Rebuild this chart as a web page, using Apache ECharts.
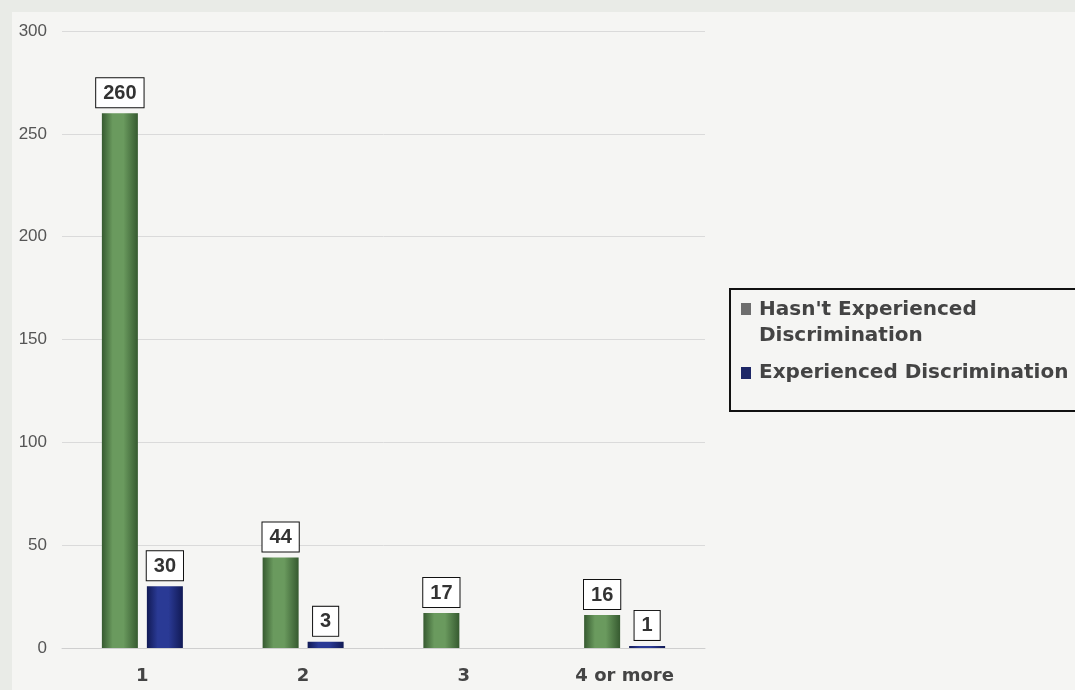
<!DOCTYPE html>
<html><head><meta charset="utf-8">
<script src="https://cdn.jsdelivr.net/npm/echarts@6/dist/echarts.min.js"></script>
<style>html,body{margin:0;padding:0;background:#e9ebe7}#c{width:1075px;height:690px}</style>
</head><body><div id="c"></div>
<script>
const categories = ['1', '2', '3', '4 or more'];
const notExperienced = [260, 44, 17, 16];
const experienced = [30, 3, null, 1];
const yTicks = [0, 50, 100, 150, 200, 250, 300];
const seriesNames = ["Hasn't Experienced Discrimination", 'Experienced Discrimination'];
const legendColors = ['#6e6e6e', '#1d2766'];

const chart = echarts.init(document.getElementById('c'));
const font = '"Liberation Sans", Arial, sans-serif';
const wideFont = '"DejaVu Sans", Verdana, sans-serif';
function grad(edge, mid) {
  return new echarts.graphic.LinearGradient(0, 0, 1, 0, [
    {offset: 0, color: edge}, {offset: 0.3, color: mid}, {offset: 0.6, color: mid}, {offset: 1, color: edge}
  ]);
}
const labelStyle = {
  show: true, position: 'top', distance: 6,
  fontFamily: font, fontWeight: 'bold', fontSize: 20, lineHeight: 20, color: '#333',
  backgroundColor: '#fff', borderColor: '#111', borderWidth: 1,
  padding: [5, 7, 4, 7]
};
chart.setOption({
  backgroundColor: '#e9ebe7',
  animation: false,
  graphic: [
    {type: 'rect', shape: {x: 12, y: 12, width: 1063, height: 678}, style: {fill: '#f5f5f3'}, z: -10},
    {type: 'rect', shape: {x: 730, y: 289, width: 360, height: 122}, style: {fill: '#f5f5f3', stroke: '#111', lineWidth: 2}, z: 1},
    {type: 'rect', shape: {x: 741, y: 303, width: 10, height: 12}, style: {fill: legendColors[0]}, z: 3},
    {type: 'rect', shape: {x: 741, y: 367, width: 10, height: 12}, style: {fill: legendColors[1]}, z: 3}
  ],
  grid: {left: 62, right: 370, top: 31, bottom: 42, containLabel: false},
  legend: {
    orient: 'vertical', left: 744, top: 297,
    padding: 0, z: 4,
    itemWidth: 10, itemHeight: 12, itemGap: 11,
    icon: 'rect',
    textStyle: {fontFamily: wideFont, fontWeight: 'bold', fontSize: 20, color: '#444', lineHeight: 26},
    formatter: n => n === seriesNames[0] ? "Hasn't Experienced\nDiscrimination" : n,
    data: [
      {name: seriesNames[0], itemStyle: {color: 'rgba(0,0,0,0)'}},
      {name: seriesNames[1], itemStyle: {color: 'rgba(0,0,0,0)'}}
    ]
  },
  xAxis: {
    type: 'category', data: categories,
    axisTick: {show: false},
    axisLine: {lineStyle: {color: '#cfcfcf', width: 1}},
    axisLabel: {fontFamily: wideFont, fontWeight: 'bold', fontSize: 18, color: '#444', margin: 19}
  },
  yAxis: {
    type: 'value', min: 0, max: 300, interval: 50,
    axisLine: {show: false}, axisTick: {show: false},
    splitLine: {lineStyle: {color: '#dadada'}},
    axisLabel: {fontFamily: font, fontSize: 17, color: '#555', margin: 15,
      formatter: v => yTicks.includes(v) ? String(v) : ''}
  },
  series: [
    {name: seriesNames[0], type: 'bar', data: notExperienced, barWidth: 36, barGap: '25%',
     itemStyle: {color: grad('#365a30', '#6a9a5e')}, label: labelStyle},
    {name: seriesNames[1], type: 'bar', data: experienced, barWidth: 36,
     itemStyle: {color: grad('#111a55', '#2a3a95')}, label: labelStyle}
  ]
});
</script></body></html>
